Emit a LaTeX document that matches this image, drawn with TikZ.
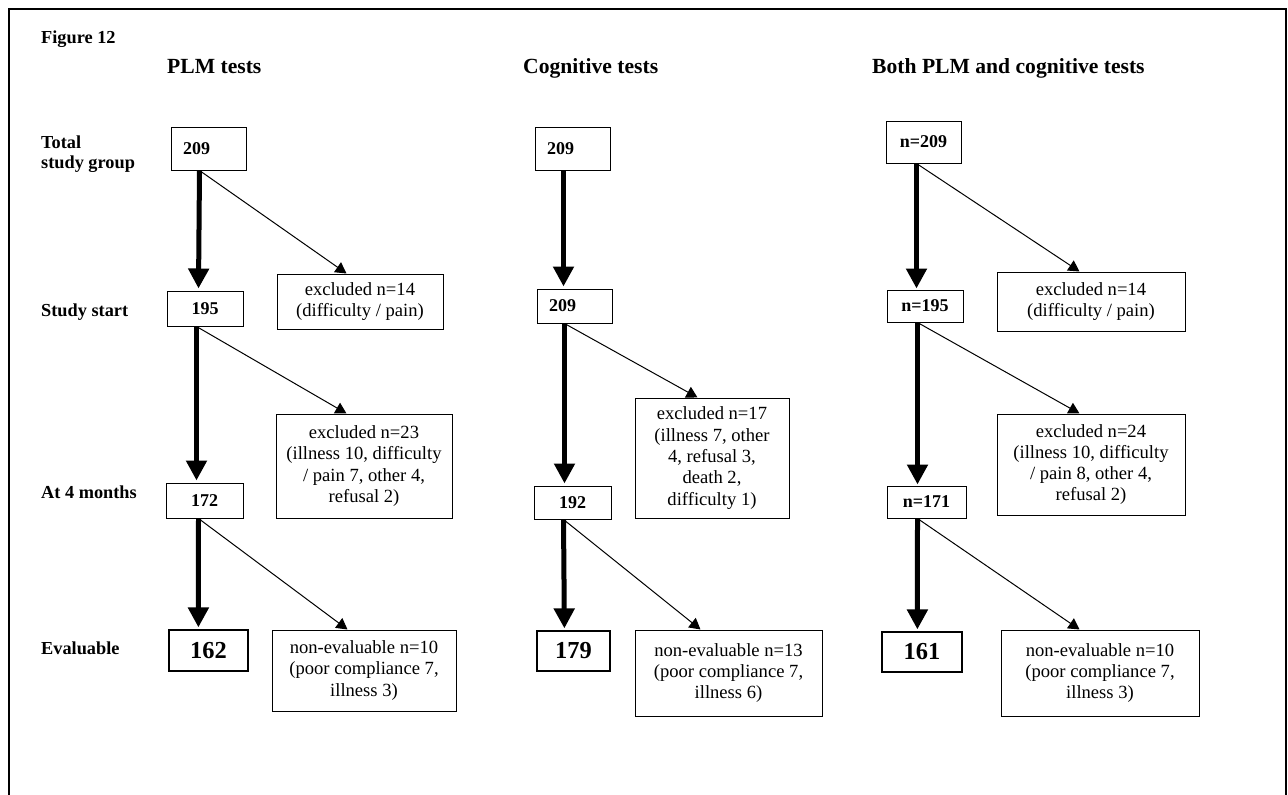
\documentclass[tikz,border=0pt]{standalone}
\usepackage{fontspec}
\setmainfont{Liberation Serif}
\usetikzlibrary{arrows.meta,calc}
\tikzset{
  textbox/.style={draw, line width=1pt, inner sep=0pt, align=center, font=\fontsize{18.6}{21.3}\selectfont},
  numbox/.style={draw, line width=1pt, inner sep=0pt, align=center, font=\fontsize{18}{20}\selectfont\bfseries},
  leftbox/.style={numbox, align=left, inner xsep=12pt, inner ysep=0pt, text width=51pt, minimum height=#1pt},
  bignum/.style={draw, line width=1.2pt, inner sep=0pt, font=\fontsize{24.4}{26}\selectfont\bfseries},
  sz/.style 2 args={minimum width=#1pt, minimum height=#2pt},
  rowlab/.style={anchor=base west, inner sep=0pt, align=left, font=\fontsize{18.3}{20}\selectfont\bfseries},
  coltitle/.style={anchor=base west, inner sep=0pt, font=\fontsize{21.6}{24}\selectfont\bfseries},
  mainarrow/.style={line width=5pt, -{Triangle[width=20pt,length=20pt]}},
  sidearrow/.style={line width=1pt, -{Triangle[width=12pt,length=11pt]}},
}
\begin{document}
\begin{tikzpicture}[x=1pt,y=-1pt]
\useasboundingbox (0,0) rectangle (1288,795);
% frame
\draw[line width=2.2pt] (9,796) -- (9,9) -- (1286,9) -- (1286,796);

% titles
\node[rowlab] (fig) at (41,43) {Figure 12};
\node[coltitle] (t1) at (167,73) {PLM tests};
\node[coltitle] (t2) at (523,73) {Cognitive tests};
\node[coltitle] (t3) at (872,73) {Both PLM and cognitive tests};

% row labels
\node[rowlab] (r1) at (41,168) {Total\\study group};
\node[rowlab] (r2) at (41,316) {Study start};
\node[rowlab] (r3) at (41,498) {At 4 months};
\node[rowlab] (r4) at (41,654) {Evaluable};

% PLM column
\node[leftbox=43] (p1) at (208.5,148.5) {209};
\node[numbox, sz={76}{35}] (p2) at (205,308.5) {195};
\node[numbox, sz={77}{35}] (p3) at (204.5,500.5) {172};
\node[bignum, sz={79}{41}] (p4) at (208.5,650.5) {162};
\node[textbox, sz={166}{55}] (pe1) at (360,301.5) {excluded n=14\\(difficulty / pain)};
\node[textbox, sz={176}{104}] (pe2) at (364,466) {excluded n=23\\(illness 10, difficulty\\/ pain 7, other 4,\\refusal 2)};
\node[textbox, sz={184}{81}] (pe3) at (364,670.5) {non-evaluable n=10\\(poor compliance 7,\\illness 3)};

% Cognitive column
\node[leftbox=43] (c1) at (572.5,148.5) {209};
\node[leftbox=34] (c2) at (574.5,306) {209};
\node[numbox, sz={77}{33}] (c3) at (572.5,502.5) {192};
\node[bignum, sz={73}{40}] (c4) at (573.5,651) {179};
\node[textbox, sz={154}{120}] (ce2) at (712,458) {excluded n=17\\(illness 7, other\\4, refusal 3,\\death 2,\\difficulty 1)};
\node[textbox, sz={187}{86}] (ce3) at (728.5,673) {non-evaluable n=13\\(poor compliance 7,\\illness 6)};

% Both column
\node[numbox, sz={75}{42}] (b1) at (923.5,142) {n=209};
\node[numbox, sz={76}{32}] (b2) at (925,306) {n=195};
\node[numbox, sz={79}{32}] (b3) at (926.5,502) {n=171};
\node[bignum, sz={80}{40}] (b4) at (922,652) {161};
\node[textbox, sz={188}{59}] (be1) at (1091,301.5) {excluded n=14\\(difficulty / pain)};
\node[textbox, sz={188}{101}] (be2) at (1091,464.5) {excluded n=24\\(illness 10, difficulty\\/ pain 8, other 4,\\refusal 2)};
\node[textbox, sz={198}{86}] (be3) at (1100,673) {non-evaluable n=10\\(poor compliance 7,\\illness 3)};

% PLM arrows
\draw[mainarrow] ($(p1.south west)+(29,0)$) -- ($(p2.north west)+(32,-2)$);
\draw[mainarrow] ($(p2.south west)+(30,0)$) -- ($(p3.north west)+(31,-2)$);
\draw[mainarrow] ($(p3.south west)+(33,0)$) -- ($(p4.north west)+(30,-2)$);
\draw[sidearrow] ($(p1.south west)+(29,0)$) -- ($(pe1.north west)+(70,0)$);
\draw[sidearrow] ($(p2.south west)+(30,0)$) -- ($(pe2.north west)+(71,0)$);
\draw[sidearrow] ($(p3.south west)+(33,0)$) -- ($(pe3.north west)+(76,0)$);

% Cognitive arrows
\draw[mainarrow] ($(c1.south west)+(29,0)$) -- ($(c2.north west)+(27,-2)$);
\draw[mainarrow] ($(c2.south west)+(28,0)$) -- ($(c3.north west)+(31,-2)$);
\draw[mainarrow] ($(c3.south west)+(30,0)$) -- ($(c4.north west)+(28,-2)$);
\draw[sidearrow] ($(c2.south west)+(28,0)$) -- ($(ce2.north west)+(63,0)$);
\draw[sidearrow] ($(c3.south west)+(30,0)$) -- ($(ce3.north west)+(66,0)$);

% Both arrows
\draw[mainarrow] ($(b1.south west)+(31,0)$) -- ($(b2.north west)+(30,-1)$);
\draw[mainarrow] ($(b2.south west)+(31,0)$) -- ($(b3.north west)+(31,-1)$);
\draw[mainarrow] ($(b3.south west)+(31,0)$) -- ($(b4.north west)+(36,-2)$);
\draw[sidearrow] ($(b1.south west)+(31,0)$) -- ($(be1.north west)+(83,0)$);
\draw[sidearrow] ($(b2.south west)+(31,0)$) -- ($(be2.north west)+(83,0)$);
\draw[sidearrow] ($(b3.south west)+(31,0)$) -- ($(be3.north west)+(79,0)$);
\end{tikzpicture}
\end{document}
